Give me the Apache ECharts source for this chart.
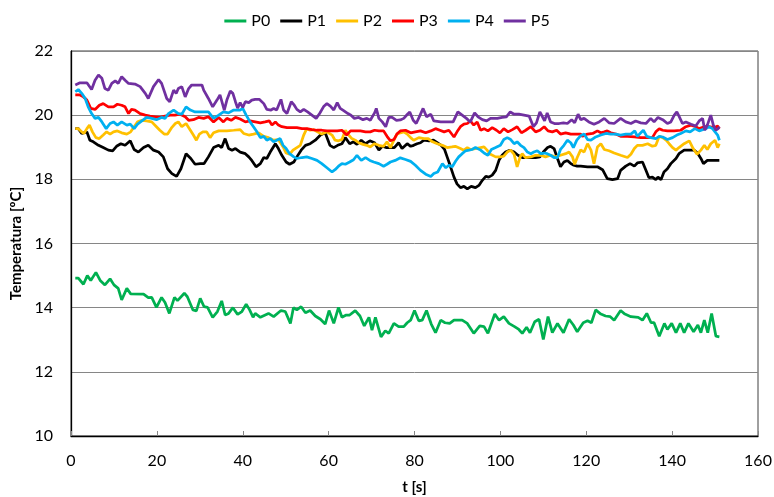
<!DOCTYPE html>
<html>
<head>
<meta charset="utf-8">
<script src="https://cdn.jsdelivr.net/npm/echarts@6/dist/echarts.min.js"></script>
<style>
  html, body { margin: 0; padding: 0; background: #fff; }
  #chart { width: 774px; height: 497px; }
</style>
</head>
<body>
<div id="chart"></div>
<script>
// series names + colours
var names = ['P0', 'P1', 'P2', 'P3', 'P4', 'P5'];
var colors = ['#00B050', '#000000', '#FFC000', '#FF0000', '#00B0F0', '#7030A0'];
var xTicks = [0, 20, 40, 60, 80, 100, 120, 140, 160];
var yTicks = [10, 12, 14, 16, 18, 20, 22];

// [t (s), temperature (C)]
var p0 = [[1,14.92],[1.7,14.92],[2.9,14.73],[3.8,15.0],[4.6,14.85],[5.8,15.1],[6.8,14.85],[7.9,14.71],[9.1,14.9],[10,14.71],[11,14.6],[11.8,14.24],[13,14.6],[13.9,14.43],[16.9,14.42],[18,14.31],[18.8,14.32],[19.9,14.01],[21.1,14.32],[21.9,14.16],[22.9,13.82],[24.1,14.32],[24.8,14.22],[26.4,14.45],[27.1,14.34],[28.4,13.93],[29.2,13.9],[30.1,14.29],[31,14.03],[31.8,14.01],[33,13.7],[34.1,13.88],[35.1,14.21],[35.9,13.77],[36.7,13.82],[37.7,14.0],[38.8,13.79],[39.8,13.88],[40.8,14.11],[41.6,13.93],[42.4,13.7],[42.9,13.82],[44.1,13.7],[46,13.82],[47.2,13.72],[48.9,13.91],[49.9,13.88],[51.1,13.51],[51.8,14.0],[52.6,13.93],[53.6,14.03],[54.6,13.84],[55.7,13.91],[56.9,13.74],[58.1,13.64],[59.2,13.49],[60.1,13.91],[61.2,13.51],[62.3,14.01],[63.1,13.7],[64.1,13.77],[64.9,13.77],[66.2,13.91],[67.3,13.74],[68.3,13.43],[69.4,13.7],[70.1,13.3],[70.9,13.7],[72.2,13.09],[73.2,13.28],[74,13.2],[75.2,13.51],[76.3,13.41],[77.5,13.41],[78.3,13.53],[79.1,13.61],[80,13.91],[81,13.59],[81.8,13.61],[82.8,13.91],[83.9,13.49],[84.9,13.22],[86.1,13.61],[87.1,13.53],[88.2,13.51],[89.2,13.61],[91.1,13.61],[92.3,13.51],[93.8,13.2],[95.2,13.43],[96.2,13.41],[97.1,13.2],[98.7,13.8],[99.7,13.61],[100.8,13.72],[102,13.51],[103.3,13.41],[104.3,13.32],[105.1,13.2],[106.1,13.39],[106.9,13.22],[108,13.56],[109,13.64],[110,13.01],[111.1,13.72],[112.1,13.22],[113.3,13.51],[114.7,13.22],[116,13.64],[117,13.46],[117.9,13.25],[119.3,13.53],[120.3,13.59],[121.2,13.53],[122.2,13.93],[123.4,13.8],[124.5,13.74],[125.6,13.72],[126.5,13.61],[128,13.91],[129,13.8],[130.4,13.72],[132.1,13.7],[133.1,13.61],[134.1,13.82],[135.1,13.53],[135.8,13.53],[137,13.11],[138.2,13.51],[138.9,13.32],[139.9,13.51],[140.9,13.22],[141.9,13.51],[142.8,13.22],[143.8,13.51],[145,13.25],[146,13.46],[146.7,13.22],[147.5,13.61],[148.3,13.22],[149.2,13.82],[150.2,13.11],[151,13.09]];

var p1 = [[1,19.58],[1.7,19.58],[2.5,19.43],[3.7,19.48],[4.4,19.22],[5.2,19.17],[6.4,19.06],[7.5,18.99],[8.7,18.91],[9.7,18.89],[10.6,19.03],[11.6,19.11],[12.6,19.06],[13.8,19.2],[14.7,18.93],[15.7,18.85],[16.9,18.99],[18,19.06],[19.2,18.91],[20.4,18.85],[21.5,18.7],[22.5,18.33],[23.5,18.18],[24.6,18.09],[25.6,18.33],[26.8,18.8],[27.9,18.65],[28.9,18.47],[30.1,18.49],[31,18.49],[32,18.7],[33.2,18.99],[34.4,19.06],[35.1,18.99],[35.9,19.27],[36.7,18.96],[37.5,18.91],[38.3,18.96],[39.4,18.85],[40.6,18.8],[41.4,18.7],[42.1,18.59],[43.1,18.39],[44.1,18.49],[44.9,18.68],[45.6,18.65],[46.4,18.85],[47.6,19.11],[48.3,18.96],[49.1,18.75],[50.1,18.54],[50.9,18.47],[51.9,18.54],[52.6,18.7],[53.6,18.91],[54.6,19.06],[55.7,19.11],[56.9,19.22],[58.1,19.38],[59.2,19.45],[60.3,19.06],[61.2,18.99],[62.1,19.06],[63.1,19.11],[63.9,19.3],[64.9,19.11],[65.8,19.17],[66.6,19.09],[67.6,19.22],[68.6,19.11],[69.6,19.2],[70.7,19.14],[71.7,18.91],[72.5,19.03],[73.5,18.99],[74.4,18.99],[75.3,18.99],[76.3,19.14],[77.1,18.96],[78.3,19.11],[79.1,19.03],[79.8,19.06],[80.6,19.11],[81.4,19.14],[82.2,19.22],[83.4,19.2],[84.4,19.22],[85.3,19.14],[86.2,19.06],[87,18.93],[87.6,18.7],[88.4,18.39],[89.2,18.07],[89.9,17.86],[90.7,17.74],[91.5,17.78],[92.3,17.7],[93.2,17.78],[94.2,17.74],[95,17.81],[95.8,17.97],[96.6,18.09],[97.3,18.07],[98.1,18.13],[98.9,18.28],[99.7,18.6],[100.4,18.75],[101.2,18.85],[102.2,18.91],[103.2,18.85],[104.1,18.75],[105.1,18.68],[106.1,18.68],[107.1,18.68],[108.2,18.68],[109.2,18.7],[110,18.85],[111,18.99],[111.7,19.03],[112.5,18.96],[113.3,18.65],[114,18.39],[114.8,18.54],[115.6,18.59],[116.4,18.49],[117.1,18.44],[117.9,18.41],[118.7,18.41],[120.3,18.39],[122.6,18.39],[123.8,18.3],[124.9,18.02],[126.1,17.99],[127.3,18.02],[128,18.28],[129.2,18.41],[130.2,18.49],[131.2,18.41],[131.9,18.51],[133.1,18.54],[133.9,18.28],[134.6,18.05],[135.4,18.07],[136.2,17.99],[136.7,18.07],[137.4,17.99],[138.1,18.23],[138.9,18.33],[139.7,18.49],[140.9,18.65],[141.6,18.8],[142.8,18.91],[144,18.91],[145.1,18.91],[145.9,18.82],[146.7,18.65],[147.3,18.49],[148.2,18.59],[149.4,18.59],[151,18.59]];

var p2 = [[1,19.58],[1.7,19.58],[2.5,19.48],[3,19.43],[3.7,19.58],[4.3,19.69],[5,19.48],[5.8,19.3],[6.6,19.27],[7.5,19.38],[8.3,19.48],[9.1,19.41],[9.9,19.48],[10.8,19.51],[11.8,19.45],[13,19.41],[13.9,19.48],[14.7,19.64],[15.5,19.79],[16.5,19.84],[17.6,19.82],[18.8,19.79],[19.9,19.64],[20.7,19.53],[21.7,19.41],[22.5,19.41],[23.5,19.62],[24.3,19.74],[25,19.79],[25.8,19.64],[26.8,19.74],[27.8,19.53],[28.5,19.38],[29.2,19.22],[29.9,19.41],[30.7,19.48],[31.6,19.48],[32.4,19.3],[33.2,19.45],[34.4,19.51],[36.3,19.51],[37.9,19.53],[39.4,19.55],[40.2,19.43],[41.4,19.38],[42.5,19.41],[43.7,19.45],[44.9,19.34],[46,19.3],[47.2,19.22],[48.3,19.24],[49.4,19.01],[50.1,18.82],[50.9,18.78],[51.7,18.91],[52.6,18.99],[53.4,19.06],[54.2,19.38],[54.9,19.58],[55.7,19.53],[56.5,19.55],[57.4,19.48],[58.4,19.41],[59.6,19.48],[60.8,19.38],[61.5,19.22],[62.3,19.2],[63.1,19.24],[63.9,19.53],[64.7,19.38],[65.4,19.27],[66.2,19.22],[67,19.14],[68,19.09],[68.9,19.06],[69.7,19.01],[70.7,19.11],[71.7,19.06],[72.8,19.03],[73.6,19.17],[74.4,18.99],[75.2,19.22],[75.9,19.41],[76.7,19.45],[77.5,19.48],[78.3,19.41],[79.1,19.3],[79.8,19.22],[81,19.3],[82.2,19.27],[83.2,19.27],[84.2,19.17],[85.3,19.11],[86.5,19.06],[87.6,18.99],[88.7,19.01],[89.5,19.03],[90.7,18.96],[91.5,18.91],[92.3,18.99],[93,18.93],[94.2,18.96],[95.4,18.99],[96.2,19.01],[96.9,18.91],[97.7,18.78],[98.9,18.7],[100,18.7],[100.8,18.72],[101.6,18.85],[102.4,18.91],[103.2,18.78],[103.9,18.39],[104.6,18.7],[105.1,18.8],[105.8,18.68],[107.1,18.7],[108.2,18.75],[109.4,18.75],[110.5,18.7],[111.7,18.75],[112.8,18.7],[114,18.75],[115.2,18.8],[116,18.85],[116.8,18.7],[117.3,18.47],[117.9,18.68],[118.7,18.92],[119.5,18.85],[120.3,19.11],[121.1,18.91],[121.8,18.49],[122.6,19.01],[123.4,19.11],[124.2,18.93],[125.3,18.89],[126.5,18.82],[128,18.75],[129.6,18.68],[130.4,18.78],[131.2,18.96],[131.9,19.06],[133.1,19.06],[134.3,19.11],[135.4,19.03],[136.2,19.06],[137,19.34],[137.8,19.3],[138.6,19.22],[139.3,19.11],[140.1,18.99],[140.9,18.91],[141.6,18.99],[142.8,19.11],[144,19.2],[144.9,18.96],[145.8,18.78],[146.7,18.91],[147.5,19.06],[148.2,18.93],[149,19.11],[150,19.22],[150.6,18.99],[151,19.11]];

var p3 = [[1,20.63],[2.1,20.63],[2.9,20.57],[3.7,20.47],[4.6,20.21],[5.6,20.18],[6.6,20.31],[7.5,20.36],[8.7,20.26],[9.9,20.26],[10.8,20.34],[11.8,20.31],[12.6,20.26],[13.4,20.05],[14.1,20.18],[14.9,20.16],[16.1,20.05],[17.3,20.0],[18.4,19.97],[19.6,19.95],[20.7,19.93],[21.9,19.97],[23.1,20.0],[24.2,20.0],[25.4,20.03],[26.6,19.95],[27.4,19.84],[28.5,19.86],[29.7,19.93],[30.9,19.9],[32,19.95],[33.2,19.79],[34.4,19.93],[35.5,19.79],[36.3,19.9],[37.3,19.84],[38.3,19.93],[39.4,19.88],[40.6,19.79],[41.7,19.82],[42.9,19.79],[44.1,19.76],[45.2,19.79],[46.2,19.82],[46.8,19.69],[47.6,19.79],[48.3,19.69],[49.1,19.64],[50.3,19.61],[51.5,19.61],[52.6,19.61],[53.8,19.58],[54.9,19.58],[56.1,19.55],[57.3,19.53],[58.4,19.53],[59.6,19.51],[60.8,19.51],[62,19.51],[63.1,19.53],[64.2,19.38],[65.1,19.51],[66.3,19.51],[67.4,19.51],[68.6,19.48],[69.7,19.48],[70.7,19.53],[71.7,19.51],[72.8,19.51],[73.6,19.34],[74.4,19.2],[75.2,19.24],[75.9,19.41],[76.7,19.51],[77.9,19.53],[79.1,19.45],[80.2,19.48],[81.4,19.51],[82.6,19.45],[83.8,19.51],[84.9,19.58],[85.9,19.53],[86.9,19.48],[88,19.53],[89.2,19.32],[89.9,19.48],[90.7,19.64],[91.5,19.72],[92.3,19.74],[93,19.82],[93.8,19.69],[94.6,19.79],[95.4,19.53],[96.2,19.58],[97.1,19.51],[98.1,19.61],[99.1,19.53],[99.9,19.45],[100.8,19.58],[101.8,19.48],[102.8,19.55],[103.9,19.64],[104.9,19.45],[105.9,19.53],[107.1,19.64],[108.2,19.48],[109.2,19.53],[110.2,19.64],[111.1,19.51],[112.1,19.48],[113.1,19.53],[114,19.41],[115.2,19.45],[116.4,19.41],[117.5,19.41],[118.7,19.41],[119.1,19.34],[120.3,19.41],[121.5,19.43],[122.6,19.51],[123.4,19.45],[124.2,19.48],[124.9,19.51],[125.7,19.45],[126.9,19.41],[128,19.34],[129.6,19.34],[131.2,19.32],[132.7,19.3],[134.3,19.3],[135.4,19.3],[136.2,19.48],[137,19.58],[137.8,19.53],[138.9,19.51],[140.5,19.51],[142,19.53],[143.2,19.64],[144.4,19.69],[145.5,19.64],[146.3,19.58],[147.5,19.64],[148.6,19.64],[149.8,19.61],[150.6,19.66],[151,19.58]];

var p4 = [[1,20.73],[1.7,20.8],[2.5,20.68],[3.3,20.52],[4,20.26],[4.8,20.05],[5.6,19.9],[6.4,19.93],[7.2,19.79],[8.2,19.58],[9.1,19.74],[9.9,19.79],[10.8,19.69],[11.8,19.79],[13,19.69],[13.8,19.72],[14.7,19.58],[15.5,19.72],[16.5,19.82],[17.6,19.93],[18.8,19.9],[19.9,19.86],[21.1,19.93],[21.9,19.9],[22.7,20.05],[23.9,20.16],[25,20.05],[25.8,20.03],[26.8,20.26],[27.8,20.16],[28.9,20.1],[30.5,20.1],[32,20.1],[33.2,19.9],[34.4,20.0],[35.5,20.1],[36.7,20.07],[37.9,20.16],[39.4,20.16],[40,20.21],[40.8,20.0],[41.7,19.79],[42.5,19.64],[43.3,19.48],[44.1,19.3],[44.9,19.34],[45.6,19.22],[46.4,19.27],[47.2,19.17],[47.9,19.22],[48.7,19.27],[49.4,19.06],[50.1,18.96],[50.9,18.8],[51.9,18.7],[52.6,18.65],[53.8,18.68],[54.9,18.7],[56.1,18.65],[57.3,18.59],[58.4,18.49],[59.6,18.36],[60.8,18.23],[61.5,18.3],[62.3,18.41],[63.1,18.49],[63.9,18.47],[64.9,18.54],[65.8,18.61],[66.6,18.75],[67.6,18.59],[68.6,18.68],[69.6,18.59],[70.5,18.54],[71.7,18.49],[72.8,18.41],[73.6,18.47],[74.4,18.54],[75.5,18.59],[76.7,18.67],[77.9,18.62],[79.1,18.56],[80.2,18.44],[81.4,18.28],[82.6,18.16],[83.8,18.09],[84.5,18.18],[85.4,18.23],[86.5,18.49],[87.3,18.36],[88,18.44],[88.8,18.39],[89.6,18.57],[90.3,18.7],[91.1,18.8],[91.9,18.89],[92.7,18.91],[93.4,18.93],[94.2,18.99],[95.4,18.91],[96.2,18.82],[97.1,18.75],[97.9,18.93],[98.9,18.99],[100,19.06],[100.8,19.24],[101.6,19.3],[102.4,19.24],[103.2,19.11],[103.9,19.17],[104.7,19.06],[105.5,18.99],[106.3,18.85],[107.1,18.8],[107.8,18.85],[108.6,18.89],[109.4,18.8],[110.2,18.82],[110.9,18.8],[111.7,18.75],[112.5,18.68],[113.3,18.68],[114,18.93],[114.8,19.06],[115.6,19.22],[116.4,19.14],[117,18.99],[117.8,19.22],[118.7,19.36],[119.5,19.41],[120.3,19.24],[121.1,19.22],[122.2,19.32],[123.4,19.38],[124.6,19.43],[125.7,19.41],[126.9,19.41],[128,19.38],[129.2,19.41],[130.4,19.41],[131.3,19.51],[131.9,19.34],[132.7,19.45],[133.3,19.53],[134.1,19.34],[135,19.3],[136.2,19.27],[137,19.34],[137.8,19.32],[138.9,19.24],[140.1,19.3],[141.1,19.38],[142,19.43],[143.2,19.51],[144.2,19.48],[145.3,19.58],[146.3,19.51],[147.1,19.55],[147.9,19.58],[148.6,19.64],[149.4,19.58],[150,19.48],[150.6,19.38],[151,19.22]];

var p5 = [[1,20.94],[2.1,21.01],[3.7,21.01],[4.8,20.8],[5.6,21.09],[6.4,21.25],[7.2,21.15],[7.9,20.83],[8.7,20.78],[9.5,20.99],[10.3,21.07],[11,20.99],[11.8,21.2],[12.6,21.09],[13.4,20.99],[14.9,20.97],[16.1,20.89],[17.3,20.68],[18,20.52],[19.2,20.89],[20.4,21.11],[21.1,20.99],[22.3,20.52],[23,20.42],[23.9,20.78],[24.5,20.68],[25,20.83],[25.8,20.89],[26.6,20.57],[27.4,20.83],[28.1,20.94],[30.5,20.94],[30.9,20.78],[32,20.52],[33,20.26],[34,20.47],[34.7,20.63],[35.7,20.16],[36.3,20.47],[37.1,20.75],[37.7,20.68],[38.3,20.42],[38.8,20.22],[39.4,20.39],[40,20.24],[40.6,20.42],[41.4,20.39],[42.1,20.47],[42.9,20.49],[43.9,20.49],[44.9,20.36],[45.6,20.18],[46.6,20.16],[47.2,20.21],[47.9,20.16],[48.9,20.49],[49.5,20.16],[50.3,20.05],[51.3,20.42],[52,20.31],[52.6,20.18],[53.4,20.1],[54.2,20.18],[55.1,20.1],[56.1,20.0],[57.1,19.9],[57.9,20.05],[58.9,20.28],[59.6,20.36],[60.4,20.28],[61.2,20.16],[62,20.39],[62.7,20.21],[63.5,20.14],[64.5,20.05],[65.2,20.0],[66,19.9],[67,19.93],[68,19.86],[68.9,19.9],[69.7,19.84],[70.7,20.07],[71.1,20.21],[71.7,19.9],[72.5,19.79],[73.3,19.64],[74,19.93],[74.8,19.93],[75.8,19.84],[76.7,19.85],[77.5,19.9],[78.3,20.02],[78.9,20.1],[79.7,19.84],[80.4,19.74],[81.2,19.97],[82,20.21],[82.8,19.95],[83.8,20.03],[84.5,19.82],[86.1,19.79],[87.6,19.79],[89,19.79],[90.1,20.1],[91.1,20.0],[92.1,19.9],[93,19.79],[94,20.07],[94.8,19.95],[95.8,19.86],[96.8,19.82],[97.7,19.9],[99.3,19.9],[100.4,19.93],[101.4,19.95],[102.3,20.1],[103.2,20.03],[104.3,20.03],[105.5,20.0],[106.7,19.97],[107.7,19.64],[108.4,19.76],[109.2,20.1],[109.8,19.95],[110.3,19.82],[110.9,20.07],[111.7,19.79],[112.6,19.74],[113.7,19.74],[114.7,19.76],[115.6,19.74],[116.6,19.86],[117.3,19.76],[118.1,20.03],[118.7,19.86],[119.5,19.9],[120.6,19.79],[121.8,19.72],[123,19.79],[124.2,19.9],[125.3,19.76],[126.5,19.74],[128,19.9],[129.2,19.79],[130.4,19.74],[131.5,19.82],[132.7,19.76],[133.9,19.74],[135,19.9],[135.8,19.79],[136.7,19.93],[137.8,19.86],[138.9,19.74],[139.7,19.79],[140.5,20.0],[141.1,20.1],[141.6,19.97],[142.4,19.74],[143.2,19.79],[144.4,19.72],[145.5,19.66],[146.3,19.82],[147.1,19.9],[147.6,19.53],[148.2,19.69],[149,20.0],[149.6,19.69],[150.2,19.53],[150.7,19.58],[151,19.64]];

var seriesData = [p0, p1, p2, p3, p4, p5];

var font = 'Lato, "Noto Sans", sans-serif';
var chart = echarts.init(document.getElementById('chart'), null, { renderer: 'canvas' });

var series = [];
for (var i = 0; i < names.length; i++) {
  series.push({
    name: names[i],
    type: 'line',
    data: seriesData[i],
    symbol: 'none',
    smooth: false,
    color: colors[i],
    lineStyle: { width: 2.75, color: colors[i] },
    animation: false
  });
}

chart.setOption({
  animation: false,
  textStyle: { fontFamily: font },
  legend: {
    top: 8,
    left: 'center',
    icon: 'path://M0,0H22V3H0Z',
    itemWidth: 22,
    itemHeight: 3,
    itemGap: 10,
    itemStyle: { borderWidth: 0 },
    data: names,
    textStyle: { fontFamily: font, fontSize: 16, color: '#000' }
  },
  grid: {
    left: 71, right: 16, top: 51, bottom: 61,
    outerBoundsMode: 'none',
    containLabel: false,
    show: true,
    borderColor: '#404040',
    borderWidth: 1
  },
  xAxis: {
    type: 'value',
    min: xTicks[0],
    max: xTicks[xTicks.length - 1],
    interval: 20,
    name: 't [s]',
    nameLocation: 'middle',
    nameGap: 44,
    nameTextStyle: { fontFamily: font, fontSize: 15, fontWeight: 'bold', color: '#000' },
    axisLine: { show: true, onZero: false, lineStyle: { color: '#000', width: 1.3 } },
    axisTick: { show: true, inside: true, length: 5, lineStyle: { color: '#868686' } },
    axisLabel: { margin: 17, fontFamily: font, fontSize: 16, color: '#000' },
    splitLine: { show: false }
  },
  yAxis: {
    type: 'value',
    min: yTicks[0],
    max: yTicks[yTicks.length - 1],
    interval: 2,
    name: 'Temperatura [ºC]',
    nameLocation: 'middle',
    nameRotate: 90,
    nameGap: 41,
    nameTextStyle: { fontFamily: font, fontSize: 15, fontWeight: 'bold', color: '#000' },
    axisLine: { show: true, lineStyle: { color: '#000', width: 1.3 } },
    axisTick: { show: false },
    axisLabel: { margin: 18, fontFamily: font, fontSize: 16, color: '#000' },
    splitLine: { show: true, lineStyle: { color: '#868686', width: 1 } }
  },
  series: series
});
</script>
</body>
</html>
